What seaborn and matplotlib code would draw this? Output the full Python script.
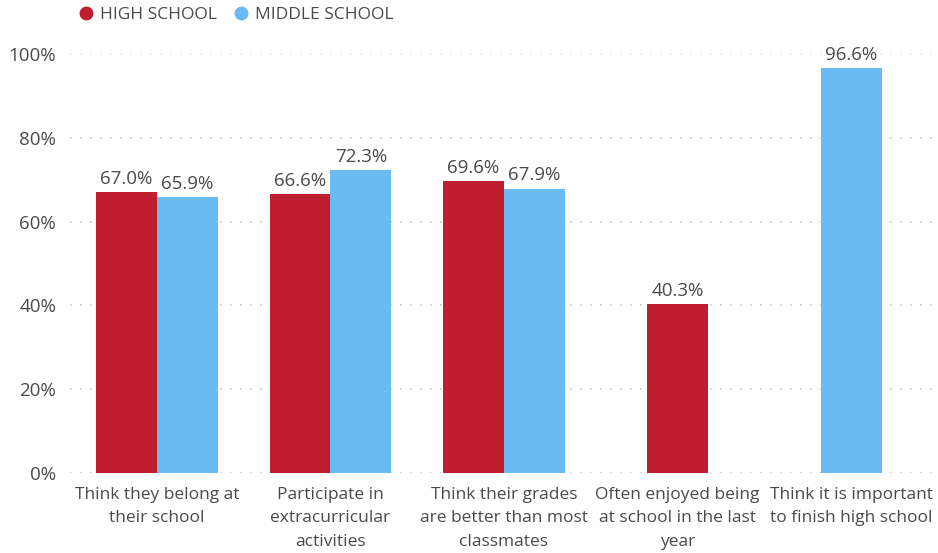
import numpy as np
import pandas as pd
import matplotlib
matplotlib.use("Agg")
import matplotlib.pyplot as plt
from matplotlib.lines import Line2D
import seaborn as sns

categories = [
    "Think they belong at\ntheir school",
    "Participate in\nextracurricular\nactivities",
    "Think their grades\nare better than most\nclassmates",
    "Often enjoyed being\nat school in the last\nyear",
    "Think it is important\nto finish high school",
]
series_names = ["HIGH SCHOOL", "MIDDLE SCHOOL"]
high_school = [67.0, 66.6, 69.6, 40.3, None]
middle_school = [65.9, 72.3, 67.9, None, 96.6]
y_ticks = [0, 20, 40, 60, 80, 100]

colors = {"HIGH SCHOOL": "#BE1E2D", "MIDDLE SCHOOL": "#6BBBF3"}
text_color = "#4a4a4a"

rows = []
for cat, h, m in zip(categories, high_school, middle_school):
    if h is not None:
        rows.append({"category": cat, "school": "HIGH SCHOOL", "value": h})
    if m is not None:
        rows.append({"category": cat, "school": "MIDDLE SCHOOL", "value": m})
df = pd.DataFrame(rows)

sns.set_theme(style="white")
plt.rcParams["font.family"] = ["Open Sans", "DejaVu Sans"]

fig = plt.figure(figsize=(9.38, 5.53), dpi=100)
ax = fig.add_axes([0.0746, 0.1447, 0.9254, 0.7576])

sns.barplot(
    data=df, x="category", y="value", hue="school", order=categories,
    hue_order=series_names, palette=colors, width=0.7, dodge=True,
    saturation=1, edgecolor="none", legend=False, ax=ax,
)

# Centre bars in groups that only have one series
counts = df.groupby("category").size()
for container, name in zip(ax.containers, series_names):
    sub = df[df["school"] == name].reset_index(drop=True)
    for bar, (_, row) in zip(container.patches, sub.iterrows()):
        if counts[row["category"]] == 1:
            idx = categories.index(row["category"])
            bar.set_x(idx - bar.get_width() / 2)
        ax.text(
            bar.get_x() + bar.get_width() / 2, row["value"] + 1.0,
            f"{row['value']:.1f}%", ha="center", va="bottom",
            fontsize=13.5, color=text_color, clip_on=False,
        )

ax.set_ylim(0, 100)
ax.set_xlim(-0.5, len(categories) - 0.5)
ax.set_yticks(y_ticks)
ax.set_yticklabels([f"{t}%" for t in y_ticks], fontsize=13.5, color=text_color)
ax.set_xticks(range(len(categories)))
ax.set_xticklabels(categories, fontsize=12.5, color=text_color, linespacing=1.62)
ax.tick_params(axis="y", length=0, pad=10)
ax.tick_params(axis="x", length=0, pad=10)
for s in ax.spines.values():
    s.set_visible(False)
ax.set_xlabel("")
ax.set_ylabel("")
ax.yaxis.grid(True, color="#c8c8c8", linestyle=(0, (1, 5)), linewidth=1.2)
ax.set_axisbelow(True)

handles = [
    Line2D([0], [0], marker="o", linestyle="none", markersize=10,
           markerfacecolor=colors[n], markeredgecolor="none")
    for n in series_names
]
fig.legend(
    handles, series_names, loc="upper left", bbox_to_anchor=(0.066, 1.015),
    ncol=2, frameon=False, fontsize=12.5, labelcolor=text_color,
    handletextpad=0.3, columnspacing=0.9, handlelength=1.0,
)

fig.savefig("out.png", dpi=100)
